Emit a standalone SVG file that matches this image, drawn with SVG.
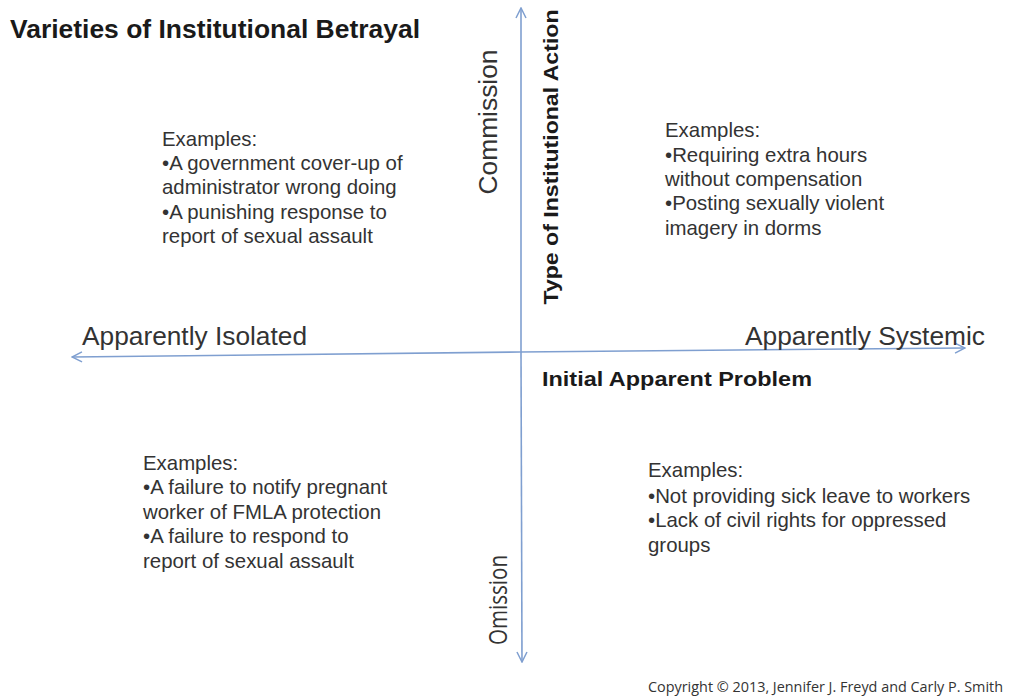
<svg xmlns="http://www.w3.org/2000/svg" width="1010" height="698" viewBox="0 0 1010 698">
<defs>
<style>
text{font-family:"Liberation Sans",Arial,sans-serif;fill:#262626}
.ex{font-size:20.4px;fill:#333}
.ax{font-size:25px;fill:#333}
.b{font-weight:bold;fill:#1a1a1a}
.axis{stroke:#7f9fd0;stroke-width:1.6;fill:none}
</style>
<marker id="ah" viewBox="0 0 12 12" refX="11" refY="6" markerWidth="12" markerHeight="12" markerUnits="userSpaceOnUse" orient="auto">
<path d="M1,1 L11,6 L1,11" fill="none" stroke="#7f9fd0" stroke-width="1.5"/>
</marker>
</defs>
<rect width="1010" height="698" fill="#fff"/>
<g id="connectors">
<line class="axis" x1="521" y1="352" x2="521" y2="8" marker-end="url(#ah)"/>
<line class="axis" x1="521" y1="352" x2="522" y2="662" marker-end="url(#ah)"/>
<line class="axis" x1="520" y1="352" x2="72" y2="357" marker-end="url(#ah)"/>
<line class="axis" x1="520" y1="352" x2="965" y2="348" marker-end="url(#ah)"/>
</g>
<g id="title"><text x="10" y="38" font-size="25" class="b" textLength="410" lengthAdjust="spacingAndGlyphs">Varieties of Institutional Betrayal</text></g>
<g id="commission"><text class="ax" transform="translate(497,122) rotate(-90)" text-anchor="middle" textLength="145" lengthAdjust="spacingAndGlyphs">Commission</text></g>
<g id="type-label"><text class="b" font-size="21" transform="translate(558,157) rotate(-90)" text-anchor="middle" textLength="295" lengthAdjust="spacingAndGlyphs">Type of Institutional Action</text></g>
<g id="omission"><text class="ax" font-size="21" transform="translate(507,600) rotate(-90)" text-anchor="middle" style="font-family:'Open Sans',sans-serif" textLength="90" lengthAdjust="spacingAndGlyphs">Omission</text></g>
<g id="isolated"><text class="ax" x="82" y="345" textLength="225" lengthAdjust="spacingAndGlyphs">Apparently Isolated</text></g>
<g id="systemic"><text class="ax" x="745" y="345" textLength="240" lengthAdjust="spacingAndGlyphs">Apparently Systemic</text></g>
<g id="problem-label"><text class="b" font-size="20" x="542" y="386" textLength="270" lengthAdjust="spacingAndGlyphs">Initial Apparent Problem</text></g>
<g id="top-left">
<text class="ex" x="162" y="146">Examples:</text>
<text class="ex" x="162" y="170">•A government cover-up of</text>
<text class="ex" x="162" y="194">administrator wrong doing</text>
<text class="ex" x="162" y="219">•A punishing response to</text>
<text class="ex" x="162" y="243">report of sexual assault</text>
</g>
<g id="top-right">
<text class="ex" x="665" y="137">Examples:</text>
<text class="ex" x="665" y="162">•Requiring extra hours</text>
<text class="ex" x="665" y="186">without compensation</text>
<text class="ex" x="665" y="210">•Posting sexually violent</text>
<text class="ex" x="665" y="235">imagery in dorms</text>
</g>
<g id="bottom-left">
<text class="ex" x="143" y="470">Examples:</text>
<text class="ex" x="143" y="494">•A failure to notify pregnant</text>
<text class="ex" x="143" y="519">worker of FMLA protection</text>
<text class="ex" x="143" y="543">•A failure to respond to</text>
<text class="ex" x="143" y="568">report of sexual assault</text>
</g>
<g id="bottom-right">
<text class="ex" x="648" y="477">Examples:</text>
<text class="ex" x="648" y="503">•Not providing sick leave to workers</text>
<text class="ex" x="648" y="527">•Lack of civil rights for oppressed</text>
<text class="ex" x="648" y="552">groups</text>
</g>
<g id="copyright"><text x="648" y="692" font-size="14" style="font-family:'Open Sans',sans-serif;fill:#333" textLength="355" lengthAdjust="spacingAndGlyphs">Copyright © 2013, Jennifer J. Freyd and Carly P.  Smith</text></g>
</svg>
